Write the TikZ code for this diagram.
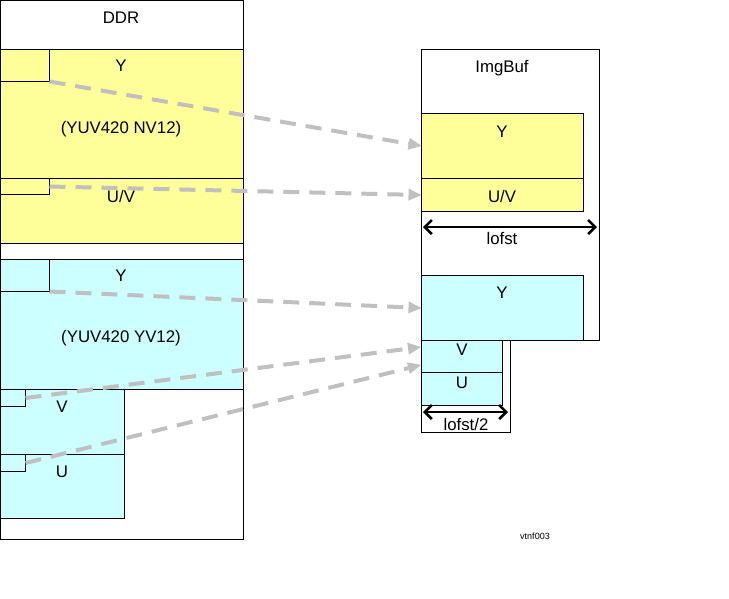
\documentclass[tikz,border=0pt]{standalone}
\usepackage{fontspec}
\setmainfont{Liberation Sans}
\usetikzlibrary{arrows.meta}
\definecolor{ylw}{HTML}{FFFF99}
\definecolor{cyn}{HTML}{CCFFFF}
\definecolor{gry}{HTML}{C0C0C0}
\begin{document}
\begin{tikzpicture}[x=1pt,y=-1pt,
  box/.style={draw=black, line width=1pt, inner sep=0pt, outer sep=0pt, anchor=north west},
  lbl/.style={font=\fontsize{16.8}{19}\selectfont, inner sep=0pt},
  map/.style={draw=gry, line width=4pt, dash pattern=on 16pt off 10pt,
    -{Triangle[length=13pt,width=12pt,fill=gry,line width=0pt]}, shorten >=0pt},
  dimarrow/.style={line width=2.6pt, {Straight Barb[length=7pt,width=14pt]}-{Straight Barb[length=7pt,width=14pt]}}]
\useasboundingbox (0,0) rectangle (729,598);
% DDR side
\node[box, minimum width=243pt, minimum height=539pt] (ddr) at (0.5,0.5) {};
\node[box, fill=ylw, minimum width=243pt, minimum height=194pt] (nv) at (0.5,49.5) {};
\node[box, minimum width=49pt, minimum height=32pt] (nvysm) at (0.5,49.5) {};
\node[box, fill=ylw, minimum width=243pt, minimum height=65pt] (nvuv) at (0.5,178.5) {};
\node[box, minimum width=49pt, minimum height=16pt] (nvuvsm) at (0.5,178.5) {};
\node[box, fill=cyn, minimum width=243pt, minimum height=130pt] (yv) at (0.5,259.5) {};
\node[box, minimum width=49pt, minimum height=32pt] (yvysm) at (0.5,259.5) {};
\node[box, fill=cyn, minimum width=124pt, minimum height=65pt] (yvv) at (0.5,389.5) {};
\node[box, minimum width=25pt, minimum height=17pt] (yvvsm) at (0.5,389.5) {};
\node[box, fill=cyn, minimum width=124pt, minimum height=64pt] (yvu) at (0.5,454.5) {};
\node[box, minimum width=25pt, minimum height=17pt] (yvusm) at (0.5,454.5) {};
\node[lbl] (tddr) at (121,18) {DDR};
\node[lbl] (tnvy) at (121,66) {Y};
\node[lbl] (tnv) at (121,129) {(YUV420 NV12)};
\node[lbl] (tnvuv) at (121,196) {U/V};
\node[lbl] (tyvy) at (121,276) {Y};
\node[lbl] (tyv) at (121,338) {(YUV420 YV12)};
\node[lbl] (tyvv) at (62,407) {V};
\node[lbl] (tyvu) at (62,472) {U};
% ImgBuf side
\node[box, fill=white, minimum width=178pt, minimum height=291pt] (ib) at (421.5,49.5) {};
\node[box, fill=white, minimum width=89pt, minimum height=92pt] (ib2) at (421.5,340.5) {};
\node[box, fill=ylw, minimum width=162pt, minimum height=65pt] (iby) at (421.5,113.5) {};
\node[box, fill=ylw, minimum width=162pt, minimum height=33pt] (ibuv) at (421.5,178.5) {};
\node[box, fill=cyn, minimum width=162pt, minimum height=65pt] (ibcy) at (421.5,275.5) {};
\node[box, fill=cyn, minimum width=81pt, minimum height=32pt] (ibv) at (421.5,340.5) {};
\node[box, fill=cyn, minimum width=81pt, minimum height=33pt] (ibu) at (421.5,372.5) {};
\node[lbl] (tib) at (502,68) {ImgBuf};
\node[lbl] (tiby) at (502,132) {Y};
\node[lbl] (tibuv) at (502,196) {U/V};
\node[lbl] (tibcy) at (502,293) {Y};
\node[lbl] (tibv) at (462,350) {V};
\node[lbl] (tibu) at (462,383) {U};
% dimension arrows
\coordinate (l1a) at (423,227);
\coordinate (l1b) at (597,227);
\draw[dimarrow] (l1a) -- (l1b);
\node[lbl] (tl1) at (502,238) {lofst};
\coordinate (l2a) at (423,412);
\coordinate (l2b) at (508,412);
\draw[dimarrow] (l2a) -- (l2b);
\node[lbl] (tl2) at (466,424) {lofst/2};
% mapping arrows
\coordinate (e4) at (421,347);
\coordinate (e5) at (421,365);
\draw[map] (nvysm.south east) -- (iby.west);
\draw[map] (nvuvsm.east) -- (ibuv.west);
\draw[map] (yvysm.south east) -- (ibcy.west);
\draw[map] (yvvsm.east) -- (e4);
\draw[map] (yvusm.east) -- (e5);
\node[font=\fontsize{9}{10}\selectfont, inner sep=0pt] (tag) at (535,536) {vtnf003};
\end{tikzpicture}
\end{document}
